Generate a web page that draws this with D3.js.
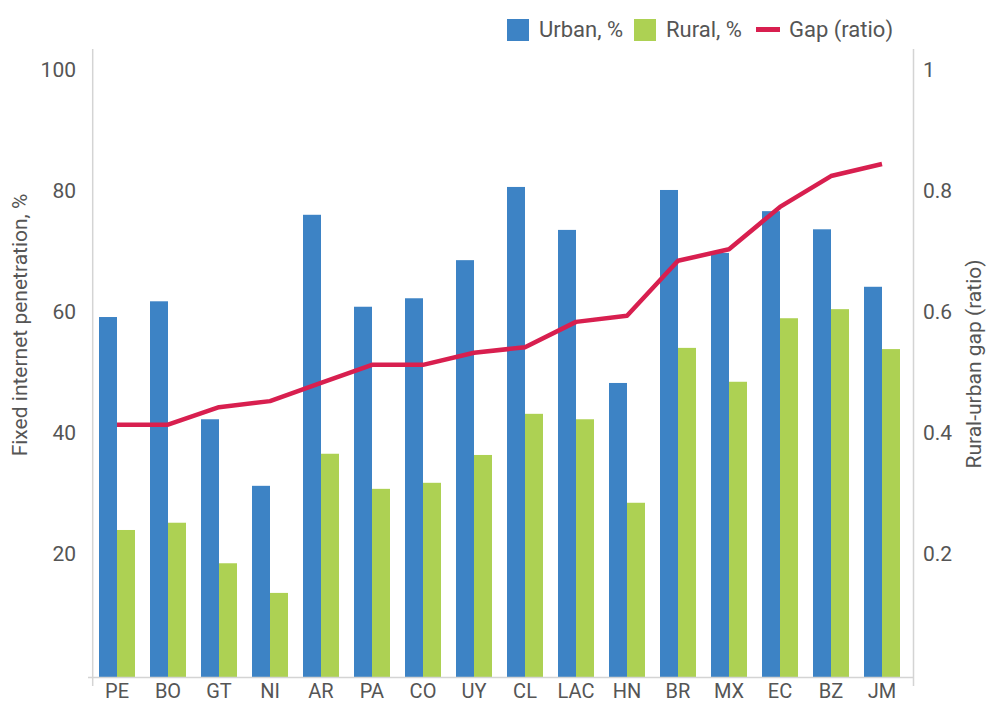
<!DOCTYPE html>
<html>
<head>
<meta charset="utf-8">
<script src="https://cdn.jsdelivr.net/npm/d3@7"></script>
<style>
  html, body { margin: 0; padding: 0; background: #fff; }
  svg text { font-family: Roboto, "DejaVu Sans", sans-serif; fill: #555; }
</style>
</head>
<body>
<svg id="chart" width="987" height="703"></svg>
<script>
const categories = ["PE","BO","GT","NI","AR","PA","CO","UY","CL","LAC","HN","BR","MX","EC","BZ","JM"];
const urban = [59.5, 62.1, 42.6, 31.6, 76.4, 61.2, 62.6, 68.9, 81.0, 73.9, 48.6, 80.5, 70.1, 77.0, 74.0, 64.5];
const rural = [24.3, 25.5, 18.8, 13.9, 36.9, 31.1, 32.1, 36.7, 43.5, 42.6, 28.8, 54.4, 48.8, 59.3, 60.8, 54.2];
const gap   = [0.417, 0.417, 0.446, 0.456, 0.486, 0.516, 0.516, 0.536, 0.545, 0.587, 0.597, 0.688, 0.707, 0.777, 0.828, 0.848];
const leftTicks = [20, 40, 60, 80, 100];
const rightTicks = [0.2, 0.4, 0.6, 0.8, 1];
const seriesNames = ["Urban, %", "Rural, %", "Gap (ratio)"];

const colors = { urban: "#3d83c5", rural: "#add153", gap: "#d81f4f", axis: "#d4d4d4" };

const svg = d3.select("#chart");
const x = d3.scaleBand().domain(categories).range([91.5, 907.5])
  .paddingInner(15/51).paddingOuter(7.5/51);
const x1 = d3.scaleBand().domain(["urban","rural"]).range([0, x.bandwidth()]);
const y = d3.scaleLinear().domain([0, 100]).range([677, 72]);
const y2 = d3.scaleLinear().domain([0, 1]).range([677, 72]);

// bars
const g = svg.append("g");
categories.forEach((c, i) => {
  g.append("rect").attr("x", x(c) + x1("urban")).attr("width", x1.bandwidth())
    .attr("y", y(urban[i])).attr("height", y(0) - y(urban[i])).attr("fill", colors.urban);
  g.append("rect").attr("x", x(c) + x1("rural")).attr("width", x1.bandwidth())
    .attr("y", y(rural[i])).attr("height", y(0) - y(rural[i])).attr("fill", colors.rural);
});

// axis lines
svg.append("line").attr("x1", 92.7).attr("x2", 92.7).attr("y1", 49).attr("y2", 686)
  .attr("stroke", colors.axis).attr("stroke-width", 1.5);
svg.append("line").attr("x1", 913.5).attr("x2", 913.5).attr("y1", 49).attr("y2", 686)
  .attr("stroke", colors.axis).attr("stroke-width", 1.5);
svg.append("line").attr("x1", 88).attr("x2", 913.5).attr("y1", 677.5).attr("y2", 677.5)
  .attr("stroke", colors.axis).attr("stroke-width", 1.5);

// gap line
const line = d3.line().x((d, i) => x(categories[i]) + x.bandwidth() / 2).y(d => y2(d));
svg.append("path").datum(gap).attr("d", line).attr("fill", "none")
  .attr("stroke", colors.gap).attr("stroke-width", 4.5).attr("stroke-linejoin", "round");

// left axis
const yAxis = d3.axisLeft(y).tickValues(leftTicks).tickSize(0).tickPadding(0);
const ya = svg.append("g").attr("transform", "translate(76,-3)").call(yAxis);
ya.select(".domain").remove();
ya.selectAll("text").style("font-size", "21px").attr("dy", "0.36em")
  .style("font-family", "Roboto, sans-serif").attr("fill", "#555");

// right axis
const y2Axis = d3.axisRight(y2).tickValues(rightTicks).tickSize(0).tickPadding(0)
  .tickFormat(d3.format("~g"));
const y2a = svg.append("g").attr("transform", "translate(923,-3)").call(y2Axis);
y2a.select(".domain").remove();
y2a.selectAll("text").style("font-size", "21px").attr("dy", "0.36em")
  .style("font-family", "Roboto, sans-serif").attr("fill", "#555");

// bottom axis
const xAxis = d3.axisBottom(x).tickSize(0).tickPadding(0);
const xa = svg.append("g").attr("transform", "translate(0,698)").call(xAxis);
xa.select(".domain").remove();
xa.selectAll("text").style("font-size", "20px").attr("y", 0).attr("dy", "0")
  .style("font-family", "Roboto, sans-serif").attr("fill", "#555");

// axis titles
svg.append("text").attr("transform", "translate(27,325) rotate(-90)")
  .attr("text-anchor", "middle").style("font-size", "21px").text("Fixed internet penetration, %");
svg.append("text").attr("transform", "translate(981,364) rotate(-90)")
  .attr("text-anchor", "middle").style("font-size", "21px").text("Rural-urban gap (ratio)");

// legend
const leg = svg.append("g");
leg.append("rect").attr("x", 507).attr("y", 19).attr("width", 22).attr("height", 22).attr("fill", colors.urban);
leg.append("text").attr("x", 539).attr("y", 37).style("font-size", "22px").text(seriesNames[0]);
leg.append("rect").attr("x", 634).attr("y", 19).attr("width", 22).attr("height", 22).attr("fill", colors.rural);
leg.append("text").attr("x", 666).attr("y", 37).style("font-size", "22px").text(seriesNames[1]);
leg.append("line").attr("x1", 756).attr("x2", 780).attr("y1", 29.5).attr("y2", 29.5)
  .attr("stroke", colors.gap).attr("stroke-width", 5);
leg.append("text").attr("x", 789).attr("y", 37).style("font-size", "22px").text(seriesNames[2]);
</script>
</body>
</html>
